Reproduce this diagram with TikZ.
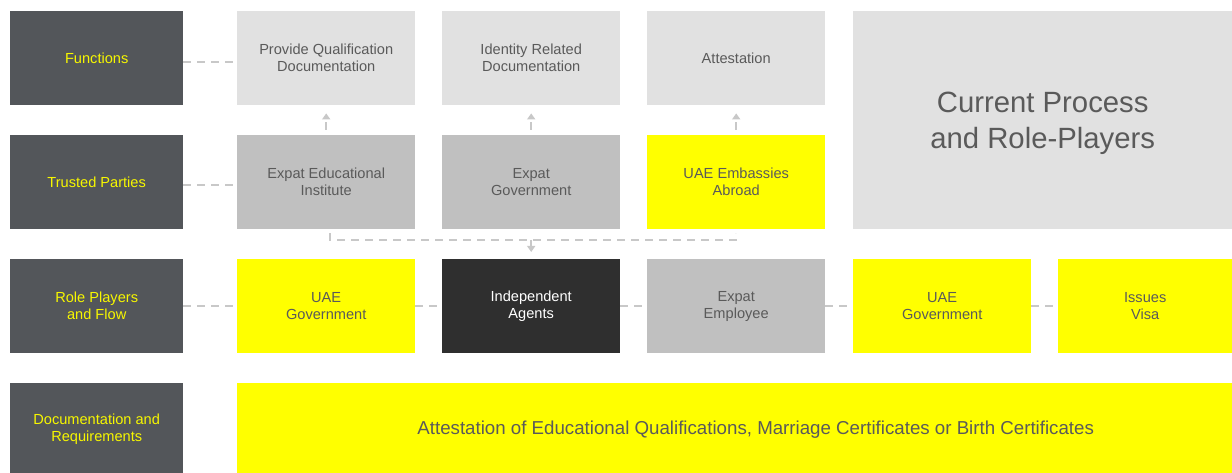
\documentclass[tikz,border=0pt]{standalone}
\usepackage{fontspec}
\setmainfont{Liberation Sans}
\usetikzlibrary{arrows.meta}
\definecolor{labelgrey}{HTML}{53565A}
\definecolor{labeltext}{HTML}{F7F700}
\definecolor{funcgrey}{HTML}{E1E1E1}
\definecolor{trustgrey}{HTML}{C0C0C0}
\definecolor{uaeyellow}{HTML}{FFFF00}
\definecolor{agentdark}{HTML}{2F2F2F}
\definecolor{boxtext}{HTML}{5A5A5A}
\definecolor{linkgrey}{HTML}{C8C8C8}
\tikzset{
  box/.style={minimum width=178pt, minimum height=94pt, inner sep=0pt, align=center,
    font=\fontsize{14.6}{17}\selectfont, text=boxtext},
  rowlabel/.style={box, minimum width=173pt, fill=labelgrey, text=labeltext},
  funcbox/.style={box, fill=funcgrey},
  trustbox/.style={box, fill=trustgrey},
  yelbox/.style={box, fill=uaeyellow},
  agentbox/.style={box, fill=agentdark, text=white},
  link/.style={draw=linkgrey, line width=1.8pt, dash pattern=on 8pt off 6pt},
  tip/.style={-{Triangle[length=6pt,width=8pt]}},
  uplink/.style={link, tip, shorten >=8pt, shorten <=5pt},
}
\begin{document}
\begin{tikzpicture}[x=1pt, y=-1pt]
\useasboundingbox (0,0) rectangle (1232,473);
% row labels
\node[rowlabel, anchor=north west] (lf) at (10,11) {Functions};
\node[rowlabel, anchor=north west] (lt) at (10,135) {Trusted Parties};
\node[rowlabel, anchor=north west] (lr) at (10,259) {Role Players\\and Flow};
\node[rowlabel, anchor=north west, minimum height=92pt] (ld) at (10,383) {Documentation and\\Requirements};
% functions
\node[funcbox, anchor=north west] (f1) at (237,11) {Provide Qualification\\Documentation};
\node[funcbox, anchor=north west] (f2) at (442,11) {Identity Related\\Documentation};
\node[funcbox, anchor=north west] (f3) at (647,11) {Attestation};
\node[funcbox, anchor=north west, minimum width=379pt, minimum height=218pt,
  font=\fontsize{29.3}{36}\selectfont] (cp) at (853,11) {\rule{0pt}{26pt}Current Process\\and Role-Players};
% trusted parties
\node[trustbox, anchor=north west] (t1) at (237,135) {Expat Educational\\Institute};
\node[trustbox, anchor=north west] (t2) at (442,135) {Expat\\Government};
\node[yelbox, anchor=north west] (t3) at (647,135) {UAE Embassies\\Abroad};
% role players
\node[yelbox, anchor=north west] (r1) at (237,259) {UAE\\Government};
\node[agentbox, anchor=north west] (r2) at (442,259) {Independent\\Agents};
\node[trustbox, anchor=north west] (r3) at (647,259) {Expat\\Employee};
\node[yelbox, anchor=north west] (r4) at (853,259) {UAE\\Government};
\node[yelbox, anchor=north west, minimum width=174pt] (r5) at (1058,259) {Issues\\Visa};
% documentation (the band runs on past the right edge)
\node[yelbox, anchor=north west, minimum width=1037pt, minimum height=92pt,
  font=\fontsize{18.7}{22}\selectfont] (doc) at (237,383) {Attestation of Educational Qualifications, Marriage Certificates or Birth Certificates};
% row links
\draw[link] (lf.east |- 0,62) -- (f1.west |- 0,62);
\draw[link] (lt.east |- 0,185) -- (t1.west |- 0,185);
\foreach \a/\b in {lr/r1, r1/r2, r2/r3, r3/r4, r4/r5}
  \draw[link] (\a.east |- 0,306) -- (\b.west |- 0,306);
% trusted parties up to functions
\foreach \t/\f in {t1/f1, t2/f2, t3/f3}
  \draw[uplink] (\t.north) -- (\f.south);
% trusted parties down to the agents
\draw[link] ([xshift=4pt, yshift=-4pt]t1.south) -- ++(0,7) -| ([yshift=-4pt]t3.south);
\draw[draw=linkgrey, line width=1.8pt, tip]
  (t2.south |- 0,240) -- ([yshift=7pt]r2.north);
\end{tikzpicture}
\end{document}
